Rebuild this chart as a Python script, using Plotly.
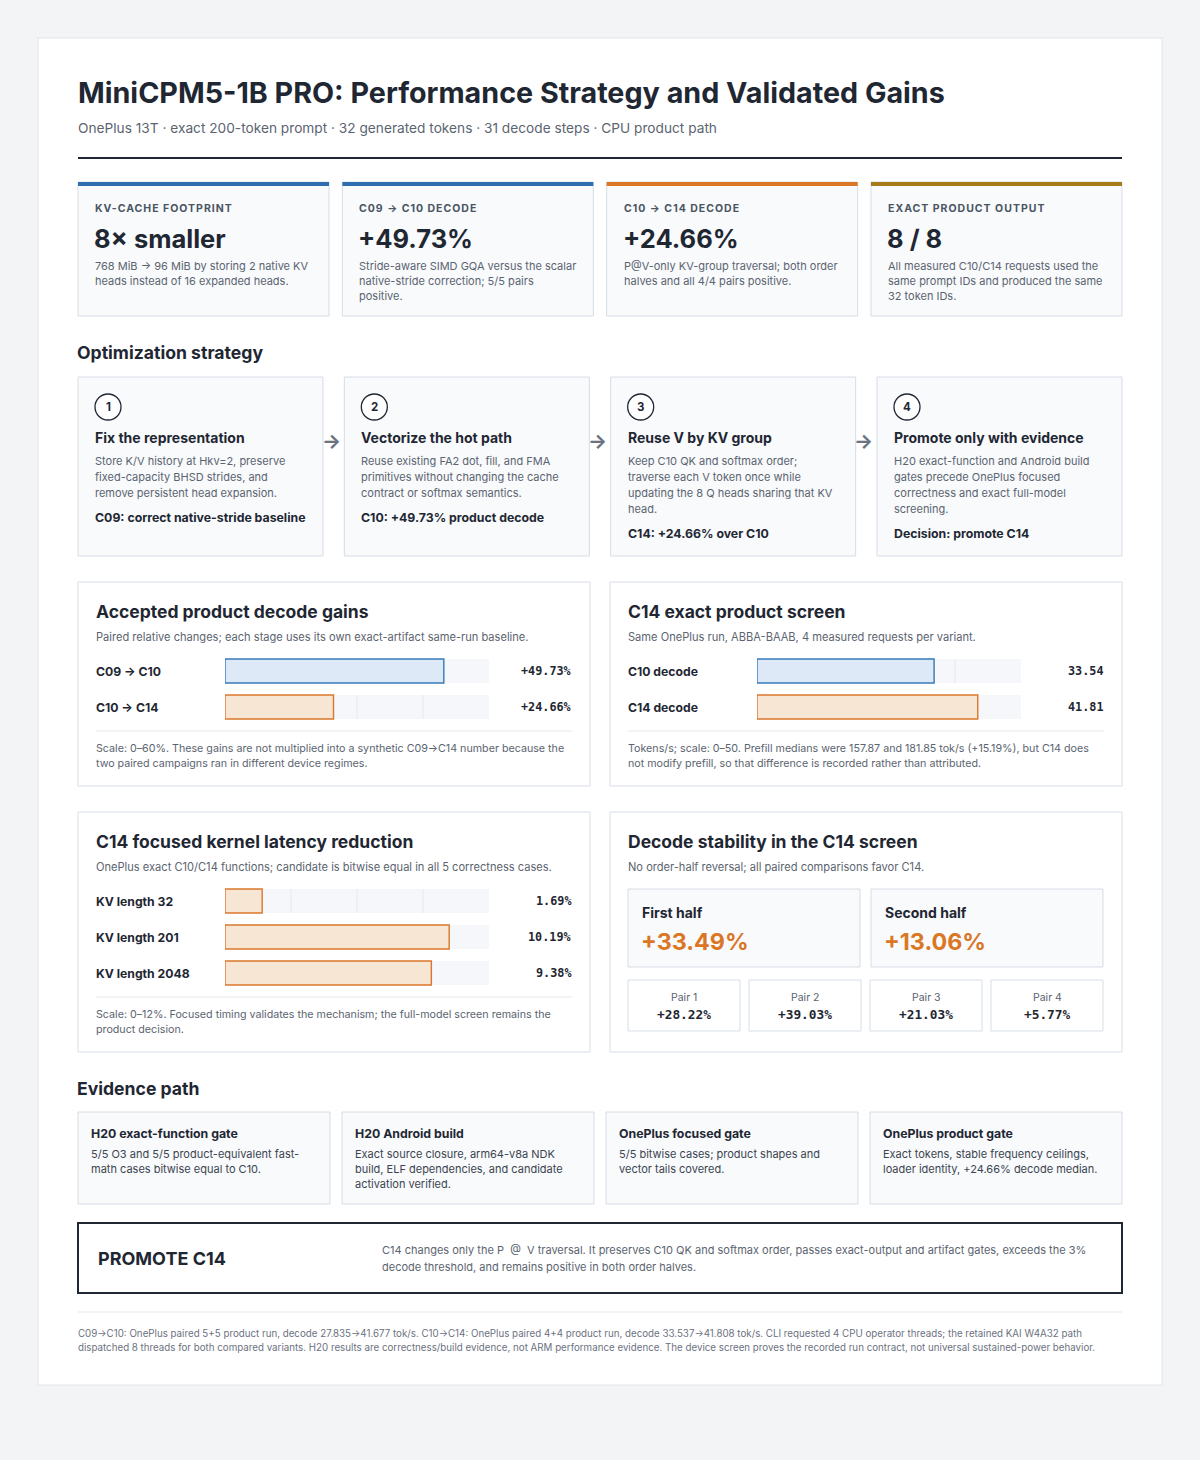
import plotly.graph_objects as go

W, H = 1200, 1460
SANS = "Inter, 'Noto Sans', 'DejaVu Sans', sans-serif"
MONO = "'DejaVu Sans Mono', 'Liberation Mono', monospace"
DARK = "#1f2733"
GRAY = "#5b6470"
BLUE = "#2f6fb0"
ORANGE = "#db7724"
GOLD = "#a57b1a"

# --- data -------------------------------------------------------------
TITLE = "MiniCPM5-1B PRO: Performance Strategy and Validated Gains"
SUBTITLE = "OnePlus 13T · exact 200-token prompt · 32 generated tokens · 31 decode steps · CPU product path"

kpi_labels = ["KV-CACHE FOOTPRINT", "C09 → C10 DECODE", "C10 → C14 DECODE", "EXACT PRODUCT OUTPUT"]
kpi_values = ["8× smaller", "+49.73%", "+24.66%", "8 / 8"]
kpi_notes = [
    ["768 MiB → 96 MiB by storing 2 native KV", "heads instead of 16 expanded heads."],
    ["Stride-aware SIMD GQA versus the scalar", "native-stride correction; 5/5 pairs", "positive."],
    ["P@V-only KV-group traversal; both order", "halves and all 4/4 pairs positive."],
    ["All measured C10/C14 requests used the", "same prompt IDs and produced the same", "32 token IDs."],
]

step_titles = ["Fix the representation", "Vectorize the hot path", "Reuse V by KV group", "Promote only with evidence"]
step_notes = [
    ["Store K/V history at Hkv=2, preserve", "fixed-capacity BHSD strides, and", "remove persistent head expansion."],
    ["Reuse existing FA2 dot, fill, and FMA", "primitives without changing the cache", "contract or softmax semantics."],
    ["Keep C10 QK and softmax order;", "traverse each V token once while", "updating the 8 Q heads sharing that KV", "head."],
    ["H20 exact-function and Android build", "gates precede OnePlus focused", "correctness and exact full-model", "screening."],
]
step_results = ["C09: correct native-stride baseline", "C10: +49.73% product decode",
                "C14: +24.66% over C10", "Decision: promote C14"]

gain_labels = ["C09 → C10", "C10 → C14"]
gain_values = [49.73, 24.66]

screen_labels = ["C10 decode", "C14 decode"]
screen_values = [33.54, 41.81]

kernel_labels = ["KV length 32", "KV length 201", "KV length 2048"]
kernel_values = [1.69, 10.19, 9.38]

half_labels = ["First half", "Second half"]
half_values = [33.49, 13.06]

pair_labels = ["Pair 1", "Pair 2", "Pair 3", "Pair 4"]
pair_values = [28.22, 39.03, 21.03, 5.77]

evidence_titles = ["H20 exact-function gate", "H20 Android build", "OnePlus focused gate", "OnePlus product gate"]
evidence_notes = [
    ["5/5 O3 and 5/5 product-equivalent fast-", "math cases bitwise equal to C10."],
    ["Exact source closure, arm64-v8a NDK", "build, ELF dependencies, and candidate", "activation verified."],
    ["5/5 bitwise cases; product shapes and", "vector tails covered."],
    ["Exact tokens, stable frequency ceilings,", "loader identity, +24.66% decode median."],
]

FOOTER = [
    "C09→C10: OnePlus paired 5+5 product run, decode 27.835→41.677 tok/s. C10→C14: OnePlus paired 4+4 product run, decode 33.537→41.808 tok/s. CLI requested 4 CPU operator threads; the retained KAI W4A32 path",
    "dispatched 8 threads for both compared variants. H20 results are correctness/build evidence, not ARM performance evidence. The device screen proves the recorded run contract, not universal sustained-power behavior.",
]

# --- helpers ----------------------------------------------------------
fig = go.Figure()
shapes = []
annots = []


def rect(x0, y0, x1, y1, fill="#f8fafc", line="#d7dde5", lw=1, xref="x", yref="y"):
    shapes.append(dict(type="rect", xref=xref, yref=yref, x0=x0, y0=y0, x1=x1, y1=y1,
                       fillcolor=fill, line=dict(color=line, width=lw), layer="below"))


def hline(x0, x1, y, color="#e3e7ec", lw=1):
    shapes.append(dict(type="line", xref="x", yref="y", x0=x0, x1=x1, y0=y, y1=y,
                       line=dict(color=color, width=lw), layer="below"))


def txt(x, y, s, size=12, color=DARK, weight=400, anchor="left", family=SANS, yref="y"):
    annots.append(dict(x=x, y=y, xref="x", yref=yref, text=s, showarrow=False, xanchor=anchor,
                       yanchor="middle", borderpad=0, borderwidth=0,
                       font=dict(family=family, size=size, color=color, weight=weight)))


def lines(x, y0, rows, step, **kw):
    for i, s in enumerate(rows):
        txt(x, y0 + i * step, s, **kw)


# page card
rect(38, 38, 1162, 1385, fill="white", line="#e0e4e9")

txt(78, 92, TITLE, size=28.7, weight=700)
txt(78, 128, SUBTITLE, size=13.7, color=GRAY)
hline(78, 1122, 158, color=DARK, lw=2)

# KPI cards
kpi_colors = [BLUE, BLUE, ORANGE, GOLD]
kw = (1044 - 3 * 13.33) / 4
for i in range(4):
    x0 = 78 + i * (kw + 13.33)
    rect(x0, 182, x0 + kw, 316)
    rect(x0, 182, x0 + kw, 186, fill=kpi_colors[i], line=kpi_colors[i], lw=0)
    txt(x0 + 17, 208, '<span style="letter-spacing:1px">%s</span>' % kpi_labels[i],
        size=10.5, color="#4a5563", weight=700)
    txt(x0 + 16, 238, kpi_values[i], size=25.5, weight=700)
    lines(x0 + 17, 266, kpi_notes[i], 15, size=11, color=GRAY)

# strategy
txt(77, 352, "Optimization strategy", size=17.6, weight=700)
sw = (1044 - 3 * 21.33) / 4
for i in range(4):
    x0 = 78 + i * (sw + 21.33)
    rect(x0, 377, x0 + sw, 556)
    shapes.append(dict(type="circle", xref="x", yref="y", x0=x0 + 17, x1=x0 + 43, y0=394, y1=420,
                       line=dict(color=DARK, width=1.3), fillcolor="white", layer="below"))
    txt(x0 + 30, 407, str(i + 1), size=11.5, weight=700, anchor="center")
    txt(x0 + 17, 437, step_titles[i], size=14, weight=700)
    lines(x0 + 17, 461, step_notes[i], 16, size=11, color=GRAY)
    txt(x0 + 17, 461 + 16 * (len(step_notes[i]) - 1) + 24, step_results[i], size=12.3, weight=700)
    if i < 3:
        txt(x0 + sw + 8, 441, "→", size=20, color="#6b7280", weight=700, anchor="center")

# panels
PANELS = [
    (78, 582, 590, 786, "Accepted product decode gains",
     "Paired relative changes; each stage uses its own exact-artifact same-run baseline.", 731,
     ["Scale: 0–60%. These gains are not multiplied into a synthetic C09→C14 number because the",
      "two paired campaigns ran in different device regimes."]),
    (610, 582, 1122, 786, "C14 exact product screen",
     "Same OnePlus run, ABBA-BAAB, 4 measured requests per variant.", 731,
     ["Tokens/s; scale: 0–50. Prefill medians were 157.87 and 181.85 tok/s (+15.19%), but C14 does",
      "not modify prefill, so that difference is recorded rather than attributed."]),
    (78, 812, 590, 1052, "C14 focused kernel latency reduction",
     "OnePlus exact C10/C14 functions; candidate is bitwise equal in all 5 correctness cases.", 997,
     ["Scale: 0–12%. Focused timing validates the mechanism; the full-model screen remains the",
      "product decision."]),
    (610, 812, 1122, 1052, "Decode stability in the C14 screen",
     "No order-half reversal; all paired comparisons favor C14.", None, []),
]
for x0, y0, x1, y1, title, sub, div, note in PANELS:
    rect(x0, y0, x1, y1, fill="white", line="#d7dde5")
    txt(x0 + 18, y0 + 29, title, size=17.5, weight=700)
    txt(x0 + 18, y0 + 55, sub, size=11.1, color=GRAY)
    if div:
        hline(x0 + 18, x1 - 18, div)
        lines(x0 + 18, div + 17, note, 15, size=10.7, color=GRAY)


def bar_panel(n, labels, values, tx0, tx1, y_top, vmax, fills, borders, fmt, label_x, value_x):
    ax, ay = "x%d" % n, "y%d" % n
    rows = len(labels)
    fig.update_layout(**{
        "xaxis%d" % n: dict(domain=[tx0 / W, tx1 / W], range=[0, vmax], visible=False,
                            fixedrange=True, anchor=ay),
        "yaxis%d" % n: dict(domain=[1 - (y_top + 36 * rows) / H, 1 - y_top / H], type="category",
                            categoryorder="array", categoryarray=labels, range=[rows - 0.5, -0.5],
                            visible=False, fixedrange=True, anchor=ax),
    })
    fig.add_trace(go.Bar(x=values, y=labels, orientation="h", xaxis=ax, yaxis=ay, width=24 / 36,
                         marker=dict(color=fills, line=dict(color=borders, width=1.4)),
                         hoverinfo="skip", showlegend=False))
    for i, lab in enumerate(labels):
        shapes.append(dict(type="rect", xref=ax, yref=ay, x0=0, x1=vmax, y0=i - 1 / 3, y1=i + 1 / 3,
                           fillcolor="#f5f7fa", line=dict(width=0), layer="below"))
        for q in (0.25, 0.5, 0.75):
            shapes.append(dict(type="line", xref=ax, yref=ay, x0=vmax * q, x1=vmax * q,
                               y0=i - 1 / 3, y1=i + 1 / 3, line=dict(color="#e6e9ee", width=1),
                               layer="below"))
        shapes.append(dict(type="line", xref=ax, yref=ay, x0=0, x1=0, y0=i - 1 / 3, y1=i + 1 / 3,
                           line=dict(color="#b9c0c9", width=1.5), layer="below"))
        annots.append(dict(x=label_x, y=i, xref="x", yref=ay, text=lab, showarrow=False,
                           xanchor="left", yanchor="middle", borderpad=0, borderwidth=0,
                           font=dict(family=SANS, size=12.2, color=DARK, weight=700)))
        annots.append(dict(x=value_x, y=i, xref="x", yref=ay, text=fmt(values[i]), showarrow=False,
                           xanchor="right", yanchor="middle", borderpad=0, borderwidth=0,
                           font=dict(family=MONO, size=11.8, color=DARK, weight=700)))


BLUE_FILL, ORANGE_FILL = "#dde9f6", "#f8e6d4"
BLUE_LINE, ORANGE_LINE = "#3679b8", "#d9772a"
bar_panel(2, gain_labels, gain_values, 225, 489, 653, 60,
          [BLUE_FILL, ORANGE_FILL], [BLUE_LINE, ORANGE_LINE], lambda v: "+%.2f%%" % v, 96, 572)
bar_panel(3, screen_labels, screen_values, 757, 1021, 653, 50,
          [BLUE_FILL, ORANGE_FILL], [BLUE_LINE, ORANGE_LINE], lambda v: "%.2f" % v, 628, 1104)
bar_panel(4, kernel_labels, kernel_values, 225, 489, 883, 12,
          [ORANGE_FILL] * 3, [ORANGE_LINE] * 3, lambda v: "%.2f%%" % v, 96, 572)

# stability halves and pairs
for i in range(2):
    x0 = 628 + i * 243
    rect(x0, 889, x0 + 232, 967, fill="#f8fafc", line="#d7dde5")
    txt(x0 + 14, 912, half_labels[i], size=14, weight=700)
    txt(x0 + 13, 941, "+%.2f%%" % half_values[i], size=23.3, color=ORANGE, weight=700)
for i in range(4):
    x0 = 628 + i * 121
    rect(x0, 980, x0 + 112, 1031, fill="white", line="#d7dde5")
    txt(x0 + 56, 997, pair_labels[i], size=10.5, color=GRAY, anchor="center")
    txt(x0 + 56, 1014, "+%.2f%%" % pair_values[i], size=12.8, weight=700, family=MONO, anchor="center")

# evidence path
txt(77, 1088, "Evidence path", size=17.6, weight=700)
for i in range(4):
    x0 = 78 + i * 264
    rect(x0, 1112, x0 + 252, 1204)
    txt(x0 + 13, 1133, evidence_titles[i], size=12.3, weight=700)
    lines(x0 + 13, 1154, evidence_notes[i], 15, size=11, color="#3b4450")

# decision box
rect(78, 1223, 1122, 1293, fill="white", line=DARK, lw=2)
txt(98, 1258, "PROMOTE C14", size=18, weight=700)
lines(382, 1250, ["C14 changes only the P  @  V traversal. It preserves C10 QK and softmax order, passes exact-output and artifact gates, exceeds the 3%",
                  "decode threshold, and remains positive in both order halves."], 17, size=11, color=GRAY)

hline(78, 1122, 1312)
lines(78, 1333, FOOTER, 14, size=9.75, color="#6b7280")

fig.update_layout(
    width=W, height=H, autosize=False,
    margin=dict(l=0, r=0, t=0, b=0),
    paper_bgcolor="#f3f4f6", plot_bgcolor="rgba(0,0,0,0)",
    xaxis=dict(domain=[0, 1], range=[0, W], visible=False, fixedrange=True),
    yaxis=dict(domain=[0, 1], range=[H, 0], visible=False, fixedrange=True),
    shapes=shapes, annotations=annots, showlegend=False, barmode="overlay",
)
# invisible anchor trace so the base axes exist
fig.add_trace(go.Scatter(x=[0], y=[0], mode="markers", marker=dict(opacity=0), hoverinfo="skip", showlegend=False))

fig.write_html("out.html", config={"displayModeBar": False},
               post_script="document.body.style.margin='0';")
